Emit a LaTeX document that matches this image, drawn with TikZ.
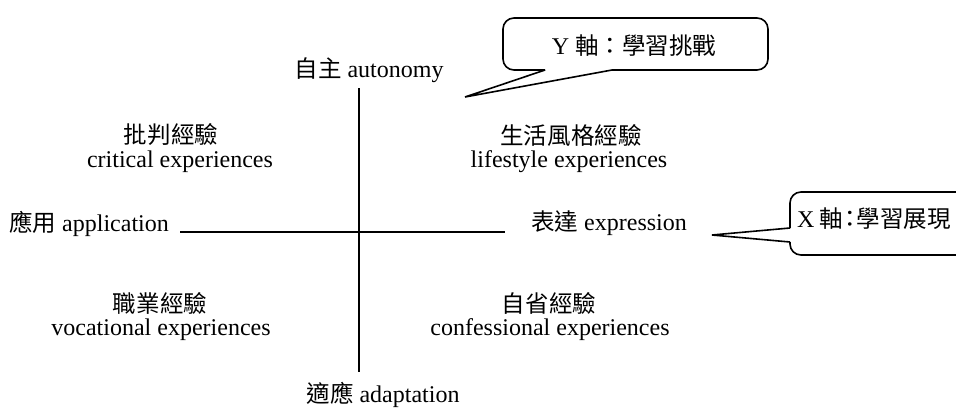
\documentclass[tikz,border=0pt]{standalone}
\usepackage{fontspec}
\setmainfont{Liberation Serif}
\newfontfamily\cjk[Scale=0.98]{Noto Sans CJK TC}
\newcommand\zh[1]{{\cjk #1}}
\begin{document}
\begin{tikzpicture}[x=1pt,y=-1pt,
  lbl/.style={inner sep=0pt, font=\fontsize{24}{27}\selectfont},
  axis/.style={line width=2.8pt},
  callout/.style={line width=1.6pt, rounded corners=11pt},
  tail/.style={line width=1.6pt, line join=miter}]
\useasboundingbox (0,0) rectangle (956,410);
\clip (0,0) rectangle (956,410);
\fill[white] (0,0) rectangle (956,410);
% axes
\coordinate (vt) at (359,88);
\coordinate (vb) at (359,372);
\coordinate (hl) at (180,232);
\coordinate (hr) at (505,232);
\draw[axis] (vt) -- (vb);
\draw[axis] (hl) -- (hr);
% axis labels
\node[lbl] (auto) at (369,70) {\zh{自主} autonomy};
\node[lbl] (adapt) at (383,395) {\zh{適應} adaptation};
\node[lbl,anchor=west] (appl) at (9,224) {\zh{應用} application};
\node[lbl] (expr) at (609,223) {\zh{表達} expression};
% quadrants
\node[lbl] (q1z) at (171,135) {\zh{批判經驗}};
\node[lbl] (q1e) at (180,162) {critical experiences};
\node[lbl] (q2z) at (571,135) {\zh{生活風格經驗}};
\node[lbl] (q2e) at (569,162) {lifestyle experiences};
\node[lbl] (q3z) at (160,303) {\zh{職業經驗}};
\node[lbl] (q3e) at (161,330) {vocational experiences};
\node[lbl] (q4z) at (549,303) {\zh{自省經驗}};
\node[lbl] (q4e) at (550,330) {confessional experiences};
% Y callout
\node[lbl] (ycall) at (634,46) {Y \zh{軸：學習挑戰}};
\coordinate (ya) at (545,70);
\coordinate (yb) at (612,70);
\coordinate (ytip) at (465,97);
\draw[callout] (yb) -- (768,70) -- (768,18) -- (503,18) -- (503,70) -- (ya);
\draw[tail] (ya) -- (ytip) -- (yb);
% X callout
\node[lbl,anchor=west] (xcall) at (797,219) {X\kern5pt\zh{軸}\kern-5pt\zh{：}\kern-5pt\zh{學習展現}};
\coordinate (xa) at (790,228);
\coordinate (xb) at (790,242);
\coordinate (xtip) at (712,235);
\draw[callout] (xa) -- (790,192) -- (975,192) -- (975,255) -- (790,255) -- (xb);
\draw[tail] (xa) -- (xtip) -- (xb);
\end{tikzpicture}
\end{document}
